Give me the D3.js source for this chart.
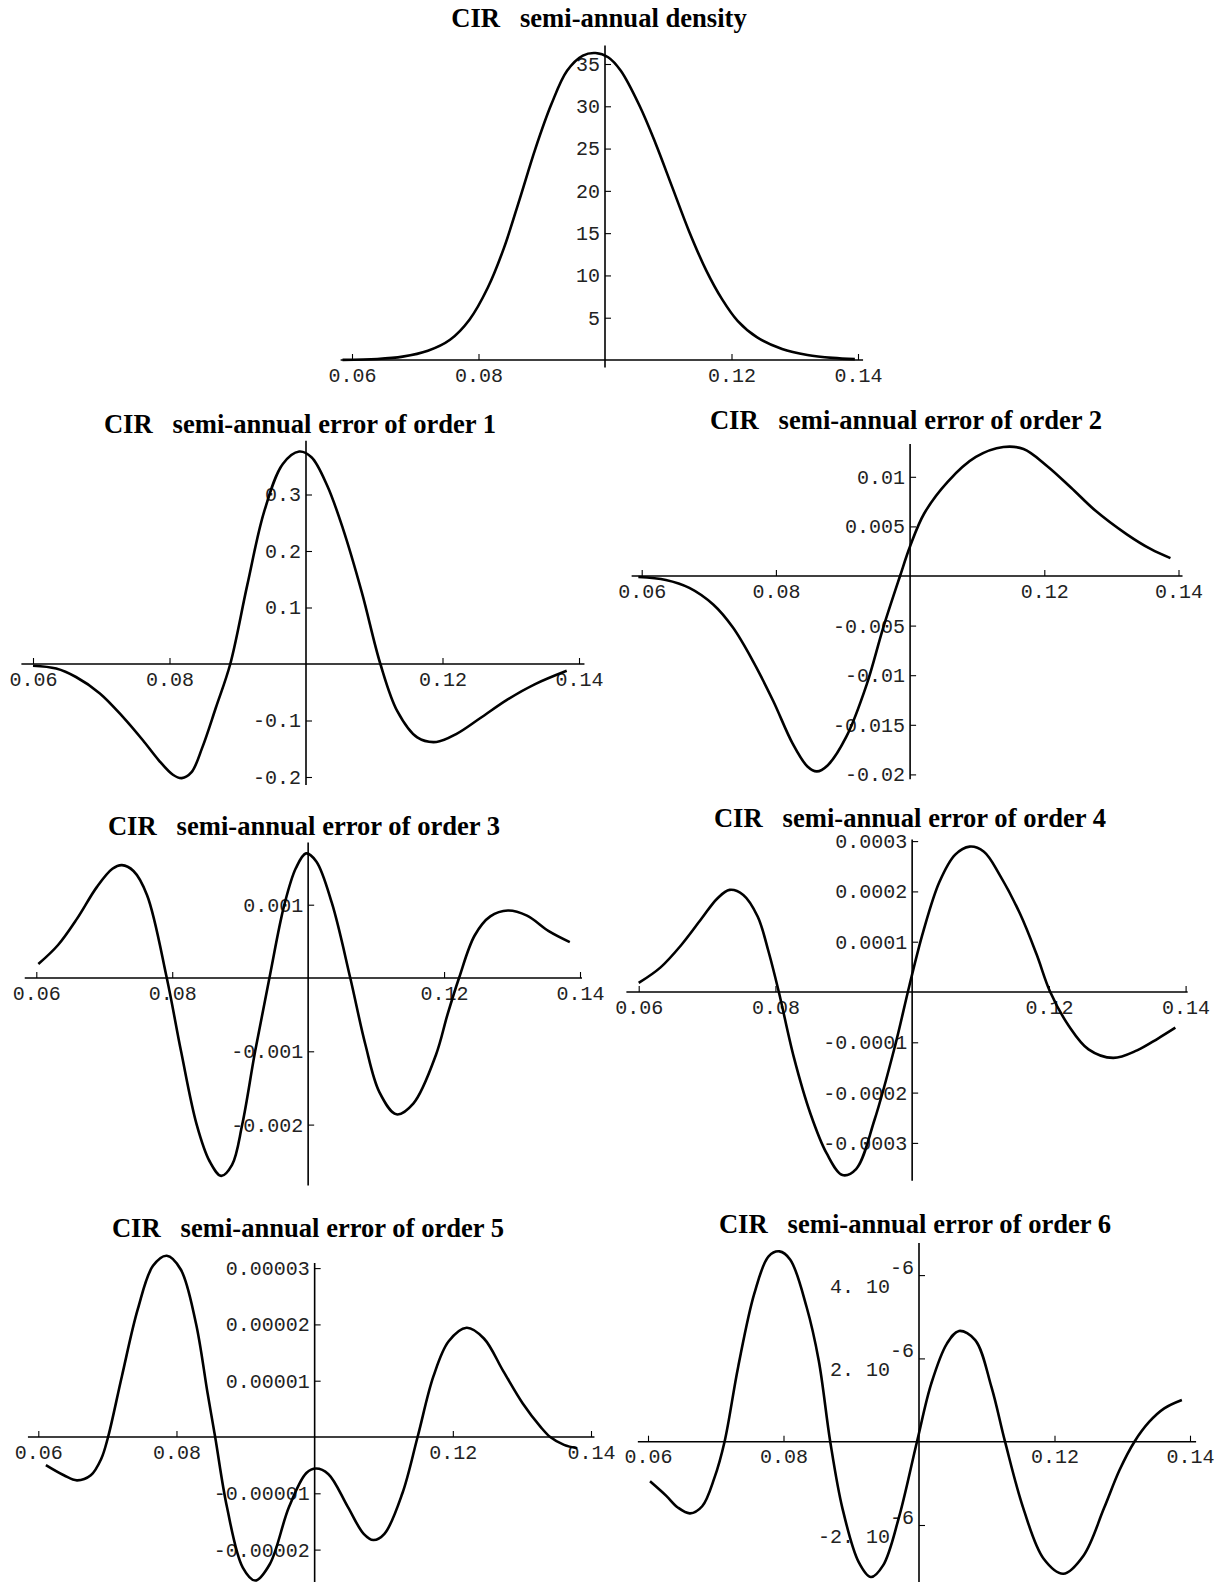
<!DOCTYPE html>
<html>
<head>
<meta charset="utf-8">
<script src="https://cdn.jsdelivr.net/npm/d3@7"></script>
<style>
  body { margin: 0; background: #fff; }
  svg { background: #fff; }
  .tick text { font-family: "Liberation Mono", "DejaVu Sans Mono", monospace; font-size: 20px; fill: #222; }
  .title { font-family: "Liberation Serif", "Times New Roman", serif; font-weight: bold; font-size: 26.6px; fill: #000; }
</style>
</head>
<body>
<svg id="chart" width="1227" height="1582"></svg>
<script>
// titles and tick labels
const titles = [
  "CIR\u00a0\u00a0\u00a0semi-annual density",
  "CIR\u00a0\u00a0\u00a0semi-annual error of order 1",
  "CIR\u00a0\u00a0\u00a0semi-annual error of order 2",
  "CIR\u00a0\u00a0\u00a0semi-annual error of order 3",
  "CIR\u00a0\u00a0\u00a0semi-annual error of order 4",
  "CIR\u00a0\u00a0\u00a0semi-annual error of order 5",
  "CIR\u00a0\u00a0\u00a0semi-annual error of order 6"
];
const xTicks = [0.06, 0.08, 0.12, 0.14];
const densityTicks = [5, 10, 15, 20, 25, 30, 35];
const order1Ticks = [-0.2, -0.1, 0.1, 0.2, 0.3];
const order2Ticks = [-0.02, -0.015, -0.01, -0.005, 0.005, 0.01];
const order3Ticks = [-0.002, -0.001, 0.001];
const order4Ticks = [-0.0003, -0.0002, -0.0001, 0.0001, 0.0002, 0.0003];
const order5Ticks = [-0.00002, -0.00001, 0.00001, 0.00002, 0.00003];
const order6Ticks = [-2e-6, 2e-6, 4e-6];

// curves: [rate, value]
const density = [
  [0.0585, 0.02], [0.064, 0.12], [0.068, 0.4], [0.072, 1.1], [0.0755, 2.4],
  [0.0786, 4.8], [0.0815, 8.6], [0.084, 13.2], [0.0865, 19.0], [0.089, 25.0],
  [0.0915, 30.2], [0.094, 34.2], [0.0965, 36.0], [0.0985, 36.3], [0.1005, 35.8],
  [0.1025, 34.2], [0.1055, 30.0], [0.108, 25.6], [0.1106, 20.5], [0.1133, 15.2],
  [0.116, 10.6], [0.1185, 7.2], [0.121, 4.6], [0.124, 2.7], [0.128, 1.3],
  [0.132, 0.6], [0.136, 0.25], [0.1395, 0.1]
];
const order1 = [
  [0.06, -0.003], [0.0634, -0.008], [0.0663, -0.023], [0.0698, -0.052],
  [0.0732, -0.094], [0.0761, -0.135], [0.0784, -0.170], [0.0805, -0.196],
  [0.0818, -0.202], [0.0832, -0.192], [0.0848, -0.148], [0.0868, -0.077],
  [0.0889, 0.0], [0.0914, 0.14], [0.0939, 0.271], [0.0966, 0.354],
  [0.099, 0.376], [0.1008, 0.366], [0.1031, 0.316], [0.1054, 0.240],
  [0.1082, 0.126], [0.1109, 0.0], [0.1134, -0.084], [0.1163, -0.130],
  [0.1191, -0.138], [0.122, -0.124], [0.1255, -0.096], [0.1295, -0.063],
  [0.1335, -0.036], [0.1382, -0.012]
];
const order2 = [
  [0.0595, -0.0001], [0.0636, -0.0004], [0.0671, -0.0012], [0.0707, -0.0029],
  [0.0736, -0.0052], [0.0766, -0.0086], [0.0796, -0.0126], [0.0825, -0.0169],
  [0.0847, -0.0192], [0.0861, -0.0197], [0.0877, -0.0191], [0.0905, -0.0162],
  [0.0935, -0.0110], [0.096, -0.0052], [0.0985, 0.0], [0.1, 0.003],
  [0.1021, 0.0063], [0.1056, 0.0095], [0.1098, 0.0120], [0.1139, 0.0130],
  [0.1169, 0.0128], [0.1204, 0.0111], [0.124, 0.0089], [0.1276, 0.0066],
  [0.1323, 0.0042], [0.1359, 0.0027], [0.1388, 0.0018]
];
const order3 = [
  [0.0603, 0.00019], [0.0632, 0.00045], [0.066, 0.00081], [0.0689, 0.00124],
  [0.0712, 0.00149], [0.0726, 0.00154], [0.0743, 0.00146], [0.0763, 0.00113],
  [0.0792, 0.0], [0.0813, -0.001], [0.0836, -0.002], [0.0855, -0.0025],
  [0.0872, -0.0027], [0.0888, -0.00255], [0.0903, -0.002], [0.0922, -0.001],
  [0.0943, 0.0], [0.0965, 0.001], [0.0982, 0.0015], [0.0997, 0.0017],
  [0.1012, 0.00159], [0.1035, 0.00102], [0.1062, 0.0], [0.1084, -0.0009],
  [0.1105, -0.00156], [0.113, -0.00186], [0.1155, -0.00171], [0.1188, -0.00105],
  [0.1205, -0.0005], [0.1222, 0.0], [0.1245, 0.00058], [0.1268, 0.00084],
  [0.1294, 0.00092], [0.1322, 0.00085], [0.1354, 0.00064], [0.1385, 0.00049]
];
const order4 = [
  [0.06, 0.000018], [0.0632, 0.000049], [0.0662, 0.000093], [0.0692, 0.000146],
  [0.0715, 0.000186], [0.0733, 0.000203], [0.0753, 0.000193], [0.0774, 0.000150],
  [0.079, 0.000080], [0.0805, 0.0], [0.0827, -0.000130], [0.0851, -0.000241],
  [0.0875, -0.000321], [0.0898, -0.000364], [0.0918, -0.000352], [0.0945, -0.000254],
  [0.0975, -0.000107], [0.0996, 0.000013], [0.1016, 0.000119], [0.104, 0.000219],
  [0.1063, 0.000273], [0.1084, 0.000289], [0.1105, 0.000279], [0.1128, 0.000233],
  [0.1158, 0.000155], [0.1182, 0.000075], [0.1202, 0.0], [0.1229, -0.000067],
  [0.1258, -0.000114], [0.1294, -0.000131], [0.1329, -0.000116], [0.1359, -0.000093],
  [0.1385, -0.000071]
];
const order5 = [
  [0.0611, -5.0e-6], [0.0637, -6.8e-6], [0.0656, -7.7e-6], [0.0676, -6.8e-6],
  [0.0691, -3.9e-6], [0.0701, 0.0], [0.0721, 1.08e-5], [0.0744, 2.27e-5],
  [0.0766, 3.04e-5], [0.0786, 3.22e-5], [0.0806, 2.98e-5], [0.0828, 2.03e-5],
  [0.0845, 7.8e-6], [0.0856, 0.0], [0.0873, -1.24e-5], [0.0896, -2.32e-5],
  [0.0914, -2.55e-5], [0.0935, -2.26e-5], [0.0963, -1.24e-5], [0.0988, -6.4e-6],
  [0.1002, -5.6e-6], [0.102, -6.6e-6], [0.1048, -1.24e-5], [0.1071, -1.72e-5],
  [0.1085, -1.83e-5], [0.1101, -1.72e-5], [0.1127, -1.0e-5], [0.1149, 0.0],
  [0.1172, 1.08e-5], [0.1194, 1.7e-5], [0.122, 1.94e-5], [0.1245, 1.75e-5],
  [0.1273, 1.17e-5], [0.1301, 6.0e-6], [0.1327, 1.8e-6], [0.1341, 0.0],
  [0.1361, -1.4e-6], [0.138, -2.0e-6]
];
const order6 = [
  [0.0603, -9.5e-7], [0.0627, -1.3e-6], [0.0644, -1.58e-6], [0.0662, -1.72e-6],
  [0.068, -1.55e-6], [0.0698, -8.7e-7], [0.0713, 0.0], [0.0733, 1.79e-6],
  [0.0757, 3.56e-6], [0.0778, 4.45e-6], [0.0794, 4.57e-6], [0.081, 4.37e-6],
  [0.0834, 3.24e-6], [0.0852, 1.95e-6], [0.0869, 0.0], [0.0887, -1.6e-6],
  [0.0911, -2.89e-6], [0.0929, -3.25e-6], [0.0947, -2.97e-6], [0.097, -1.84e-6],
  [0.0997, 0.0], [0.1018, 1.39e-6], [0.1041, 2.35e-6], [0.1059, 2.66e-6],
  [0.1083, 2.44e-6], [0.1107, 1.31e-6], [0.1127, 0.0], [0.1154, -1.6e-6],
  [0.1184, -2.81e-6], [0.1213, -3.17e-6], [0.1243, -2.73e-6], [0.1273, -1.6e-6],
  [0.1296, -6.8e-7], [0.1318, 0.0], [0.134, 4.8e-7], [0.1362, 8.0e-7],
  [0.1388, 1.0e-6]
];

// where each panel sits on the page
const panels = [
  { title: titles[0], tx: 599, ty: 27, data: density, yTicks: densityTicks, minor: 1,
    xr: [352, 858], yd: [0, 35], yr: [360, 64], yExt: [-0.9, 37.2], xExt: [0.0582, 0.1408] },
  { title: titles[1], tx: 300, ty: 433, data: order1, yTicks: order1Ticks, minor: 0.02,
    xr: [33, 579], yd: [0, 0.3], yr: [664, 494.5], yExt: [-0.214, 0.395], xExt: [0.0583, 0.1408] },
  { title: titles[2], tx: 906, ty: 429, data: order2, yTicks: order2Ticks, minor: 0.001,
    xr: [641.7, 1178.5], yd: [0, 0.01], yr: [576, 476.8], yExt: [-0.0205, 0.0133], xExt: [0.0585, 0.1406] },
  { title: titles[3], tx: 304, ty: 835, data: order3, yTicks: order3Ticks, minor: 0.0002,
    xr: [36.3, 580], yd: [0, 0.001], yr: [978, 904.7], yExt: [-0.00283, 0.00185], xExt: [0.0583, 0.1403] },
  { title: titles[4], tx: 910, ty: 827, data: order4, yTicks: order4Ticks, minor: 0.00002,
    xr: [638.7, 1185.6], yd: [0, 0.0001], yr: [992, 941.7], yExt: [-0.000375, 0.000303], xExt: [0.0582, 0.1403] },
  { title: titles[5], tx: 308, ty: 1237, data: order5, yTicks: order5Ticks, minor: 0.000002,
    xr: [38.3, 591], yd: [0, 0.00001], yr: [1437, 1380.7], yExt: [-2.58e-5, 3.09e-5], xExt: [0.0585, 0.1405] },
  { title: titles[6], tx: 915, ty: 1233, data: order6, yTicks: order6Ticks, minor: 0.0000005, sci: true,
    xr: [648, 1190], yd: [0, 2e-6], yr: [1441.7, 1358.4], yExt: [-3.37e-6, 4.77e-6], xExt: [0.0585, 0.1409] }
];

const svg = d3.select("#chart");
const clean = (d) => String(+d.toFixed(10));

function minorTicks(lo, hi, step, skip) {
  const out = [];
  for (let i = Math.ceil(lo / step - 1e-6); i * step <= hi + 1e-12; i++) {
    const v = +(i * step).toFixed(12);
    if (Math.abs(v) < 1e-15) continue;
    if (skip.some((s) => Math.abs(s - v) < step / 10)) continue;
    out.push(v);
  }
  return out;
}

panels.forEach((p) => {
  const g = svg.append("g");
  const x = d3.scaleLinear().domain([0.06, 0.14]).range(p.xr);
  const y = d3.scaleLinear().domain(p.yd).range(p.yr);
  const y0 = y(0);
  const xAxisX = x(0.1);

  g.append("text")
    .attr("class", "title")
    .attr("x", p.tx)
    .attr("y", p.ty)
    .attr("text-anchor", "middle")
    .text(p.title);

  // x axis: ticks point up, labels below
  const gx = g.append("g").attr("transform", `translate(0,${y0})`);
  gx.call(
    d3.axisBottom(x)
      .tickValues(minorTicks(p.xExt[0], p.xExt[1], 0.005, xTicks.concat([0.1])))
      .tickSizeInner(-3).tickSizeOuter(0).tickFormat("")
  );
  gx.call(
    d3.axisBottom(x)
      .tickValues(xTicks)
      .tickSizeInner(-6).tickSizeOuter(0).tickPadding(7.5)
      .tickFormat((d) => d.toFixed(2))
  );
  gx.selectAll(".domain").remove();
  gx.append("line")
    .attr("x1", x(p.xExt[0])).attr("x2", x(p.xExt[1]))
    .attr("stroke", "#000").attr("stroke-width", 1.6);

  // y axis: ticks point right, labels left
  const gy = g.append("g").attr("transform", `translate(${xAxisX},0)`);
  gy.call(
    d3.axisLeft(y)
      .tickValues(minorTicks(p.yExt[0], p.yExt[1], p.minor, p.yTicks))
      .tickSizeInner(-3).tickSizeOuter(0).tickFormat("")
  );
  gy.call(
    d3.axisLeft(y)
      .tickValues(p.yTicks)
      .tickSizeInner(-6).tickSizeOuter(0).tickPadding(5)
      .tickFormat(clean)
  );
  gy.selectAll(".domain").remove();
  gy.append("line")
    .attr("y1", y(p.yExt[0])).attr("y2", y(p.yExt[1]))
    .attr("stroke", "#000").attr("stroke-width", 1.6);

  if (p.sci) {
    gy.selectAll(".tick text").each(function (d) {
      const t = d3.select(this);
      const m = Math.round(d / 1e-6);
      t.text(null).attr("dy", null).attr("y", 17.5);
      t.append("tspan").text(m + ". 10");
      t.append("tspan").attr("dy", -19).text("-6");
    });
  }

  g.selectAll(".tick line").attr("stroke", "#000").attr("stroke-width", 1.1);

  const line = d3.line()
    .x((d) => x(d[0]))
    .y((d) => y(d[1]))
    .curve(d3.curveCatmullRom.alpha(0.5));

  g.append("path")
    .datum(p.data)
    .attr("d", line)
    .attr("fill", "none")
    .attr("stroke", "#000")
    .attr("stroke-width", 2.6)
    .attr("stroke-linejoin", "round");
});
</script>
</body>
</html>
